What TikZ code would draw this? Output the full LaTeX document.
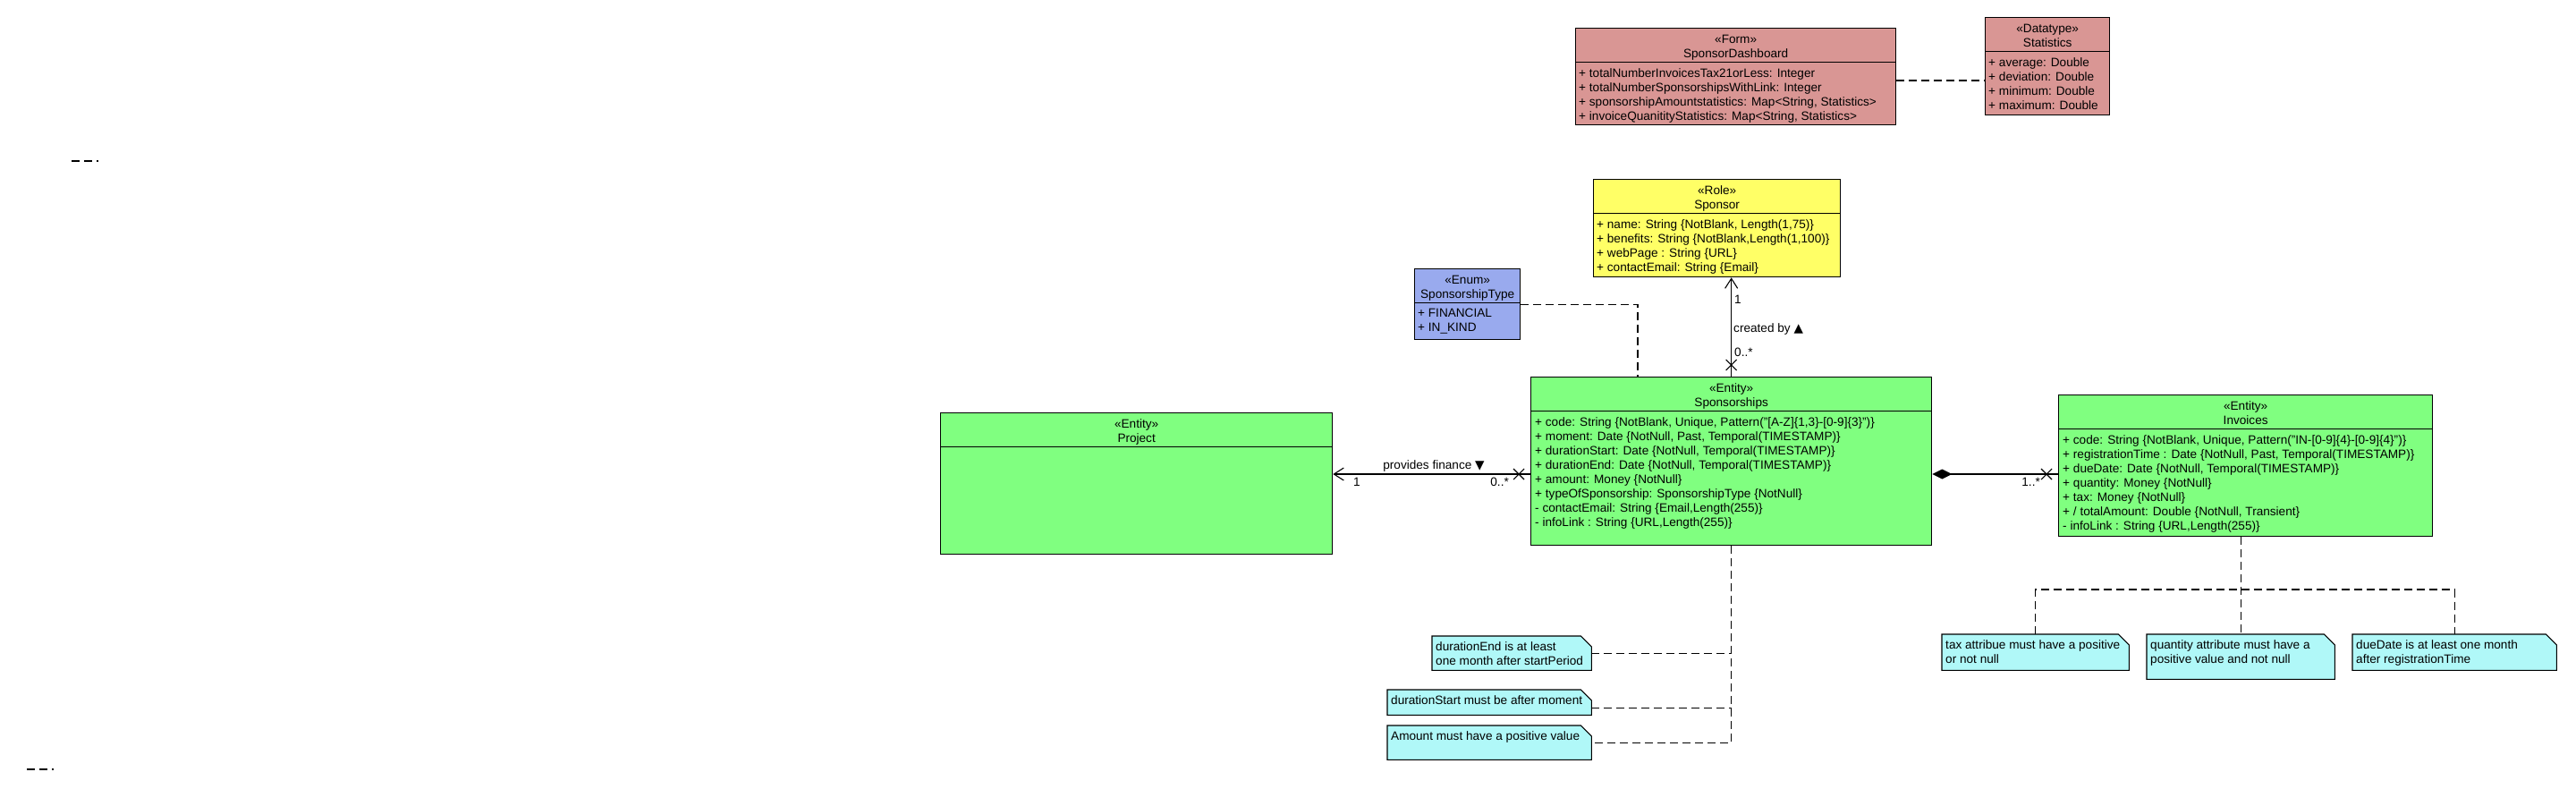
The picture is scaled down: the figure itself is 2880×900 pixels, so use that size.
\documentclass[tikz,border=0pt]{standalone}
\usepackage{fontspec}
\setmainfont{Liberation Sans}
\newfontfamily\symfont{DejaVu Sans}
\usetikzlibrary{arrows.meta}

\begin{document}
\begin{tikzpicture}[
    x=1pt, y=-1pt,
    font=\fontsize{13.6}{16}\selectfont
]

% Colours of the stereotypes
\definecolor{formred}{RGB}{217, 150, 148}    % Form / Datatype
\definecolor{roleyellow}{RGB}{255, 255, 102} % Role
\definecolor{enumblue}{RGB}{153, 170, 238}   % Enum
\definecolor{entgreen}{RGB}{128, 255, 128}   % Entity
\definecolor{notecyan}{RGB}{176, 248, 248}   % constraint notes

\tikzset{
    cls/.style={draw=black, line width=1.3pt, anchor=north west, inner sep=0},
    hdr/.style={anchor=north, align=center, inner sep=0},
    attr/.style={anchor=north west, align=left, inner sep=0},
    lbl/.style={inner sep=0},
    notebox/.style={anchor=north west, inner sep=0},
    dep/.style={line width=1.1pt, dash pattern=on 9pt off 5pt},
    assoc/.style={line width=1.1pt},
    nav/.style={assoc, -{Straight Barb[length=11pt, width=14pt]}},
    comp/.style={assoc, {Diamond[length=22pt, width=11pt]}-},
    xmark/.pic={\draw[line width=1.1pt] (-6,-6) -- (6,6) (-6,6) -- (6,-6);}
}

% Header height of every class box
\def\hdrh{38.5pt}

\fill[white, use as bounding box] (0,0) rectangle (2880,900);

% Class boxes
\node[cls, fill=formred, minimum width=358, minimum height=108] (dash) at (1761,31) {};
\node[cls, fill=formred, minimum width=139, minimum height=109] (stat) at (2219,19) {};
\node[cls, fill=roleyellow, minimum width=276, minimum height=109] (sponsor) at (1781,200) {};
\node[cls, fill=enumblue, minimum width=118, minimum height=79] (enum) at (1581,300) {};
\node[cls, fill=entgreen, minimum width=448, minimum height=188] (spons) at (1711,421) {};
\node[cls, fill=entgreen, minimum width=438, minimum height=158] (proj) at (1051,461) {};
\node[cls, fill=entgreen, minimum width=418, minimum height=158] (inv) at (2301,441) {};

% Compartment lines
\foreach \b in {dash, stat, sponsor, enum, spons, proj, inv} {
    \draw[line width=1.1pt] ([yshift=-\hdrh]\b.north west) -- ([yshift=-\hdrh]\b.north east);
}

% Headers
\node[hdr] at ([yshift=-7.5pt]dash.north) {«Form»\\SponsorDashboard};
\node[hdr] at ([yshift=-7.5pt]stat.north) {«Datatype»\\Statistics};
\node[hdr] at ([yshift=-7.5pt]sponsor.north) {«Role»\\Sponsor};
\node[hdr] at ([yshift=-7.5pt]enum.north) {«Enum»\\SponsorshipType};
\node[hdr] at ([yshift=-7.5pt]spons.north) {«Entity»\\Sponsorships};
\node[hdr] at ([yshift=-7.5pt]proj.north) {«Entity»\\Project};
\node[hdr] at ([yshift=-7.5pt]inv.north) {«Entity»\\Invoices};

% Attributes
\node[attr] at ([shift={(4,45)}]dash.north west) {%
    + totalNumberInvoicesTax21orLess: Integer\\
    + totalNumberSponsorshipsWithLink: Integer\\
    + sponsorshipAmountstatistics: Map<String, Statistics>\\
    + invoiceQuanitityStatistics: Map<String, Statistics>};
\node[attr] at ([shift={(4,45)}]stat.north west) {%
    + average: Double\\
    + deviation: Double\\
    + minimum: Double\\
    + maximum: Double};
\node[attr] at ([shift={(4,45)}]sponsor.north west) {%
    + name: String \{NotBlank, Length(1,75)\}\\
    + benefits: String \{NotBlank,Length(1,100)\}\\
    + webPage : String \{URL\}\\
    + contactEmail: String \{Email\}};
\node[attr] at ([shift={(4,45)}]enum.north west) {%
    + FINANCIAL\\
    + IN\_KIND};
\node[attr] at ([shift={(5,45)}]spons.north west) {%
    + code: String \{NotBlank, Unique, Pattern("[A-Z]\{1,3\}-[0-9]\{3\}")\}\\
    + moment: Date \{NotNull, Past, Temporal(TIMESTAMP)\}\\
    + durationStart: Date \{NotNull, Temporal(TIMESTAMP)\}\\
    + durationEnd: Date \{NotNull, Temporal(TIMESTAMP)\}\\
    + amount: Money \{NotNull\}\\
    + typeOfSponsorship: SponsorshipType \{NotNull\}\\
    - contactEmail: String \{Email,Length(255)\}\\
    - infoLink : String \{URL,Length(255)\}};
\node[attr] at ([shift={(5,45)}]inv.north west) {%
    + code: String \{NotBlank, Unique, Pattern("IN-[0-9]\{4\}-[0-9]\{4\}")\}\\
    + registrationTime : Date \{NotNull, Past, Temporal(TIMESTAMP)\}\\
    + dueDate: Date \{NotNull, Temporal(TIMESTAMP)\}\\
    + quantity: Money \{NotNull\}\\
    + tax: Money \{NotNull\}\\
    + / totalAmount: Double \{NotNull, Transient\}\\
    - infoLink : String \{URL,Length(255)\}};

% Constraint notes
\node[notebox, minimum width=178, minimum height=38] (n1) at (1601,711) {};
\node[notebox, minimum width=228, minimum height=28] (n2) at (1551,771) {};
\node[notebox, minimum width=228, minimum height=38] (n3) at (1551,811) {};
\node[notebox, minimum width=209, minimum height=40] (nA) at (2171,709) {};
\node[notebox, minimum width=210, minimum height=50] (nB) at (2400,709) {};
\node[notebox, minimum width=228, minimum height=40] (nC) at (2630,709) {};
\foreach \n in {n1, n2, n3, nA, nB, nC} {
    \draw[fill=notecyan, line width=1.1pt] (\n.south west) -- (\n.north west)
        -- ([xshift=-12pt]\n.north east) -- ([yshift=-12pt]\n.north east)
        -- (\n.south east) -- cycle;
}
\node[attr] at ([shift={(4,6.5)}]n1.north west) {durationEnd is at least\\one month after startPeriod};
\node[attr] at ([shift={(4,6.5)}]n2.north west) {durationStart must be after moment};
\node[attr] at ([shift={(4,6.5)}]n3.north west) {Amount must have a positive value};
\node[attr] at ([shift={(4,6.5)}]nA.north west) {tax attribue must have a positive\\or not null};
\node[attr] at ([shift={(4,6.5)}]nB.north west) {quantity attribute must have a\\positive value and not null};
\node[attr] at ([shift={(4,6.5)}]nC.north west) {dueDate is at least one month\\after registrationTime};

% Dependencies
\draw[dep] (dash.east |- 0,90) -- (stat.west |- 0,90);
\draw[dep] (enum.east) -| (spons.north -| 1831,0);

% Sponsorships -- Sponsor
\draw[nav] (spons.north) -- (sponsor.south -| spons.north);
\pic at ([yshift=13pt]spons.north) {xmark};
\node[lbl, anchor=west] at (1939,335) {1};
\node[lbl, anchor=west] at (1938,368) {created by {\symfont ▲}};
\node[lbl, anchor=west] at (1939,394) {0..*};

% Sponsorships -- Project
\coordinate (pf-a) at (spons.west |- 0,530);
\coordinate (pf-b) at (proj.east |- 0,530);
\draw[nav] (pf-a) -- (pf-b);
\pic at ([xshift=-13pt]pf-a) {xmark};
\node[lbl] at (1603,521) {provides finance {\symfont ▼}};
\node[lbl] at (1517,539) {1};
\node[lbl, anchor=east] at (1687,539) {0..*};

% Sponsorships <>-- Invoices
\coordinate (co-a) at (spons.east |- 0,530);
\coordinate (co-b) at (inv.west |- 0,530);
\draw[comp] (co-a) -- (co-b);
\pic at ([xshift=-13pt]co-b) {xmark};
\node[lbl, anchor=east] at (2281,539) {1..*};

% Notes of Sponsorships
\coordinate (n2e) at ([yshift=-6pt]n2.east);
\draw[dep] (spons.south) |- (n3.east);
\draw[dep] (n1.east) -- (n1.east -| spons.south);
\draw[dep] (n2e) -- (n2e -| spons.south);

% Notes of Invoices
\coordinate (junc) at (nB.north |- 0,659);
\draw[dep] (inv.south -| junc) -- (junc) -- (nB.north);
\draw[dep] (nA.north) |- (junc) -| (nC.north);

% Loose dashes
\coordinate (strayA) at (80,180);
\coordinate (strayB) at (30,860);
\draw[dep] (strayA) -- ++(30,0);
\draw[dep] (strayB) -- ++(30,0);

\end{tikzpicture}
\end{document}
